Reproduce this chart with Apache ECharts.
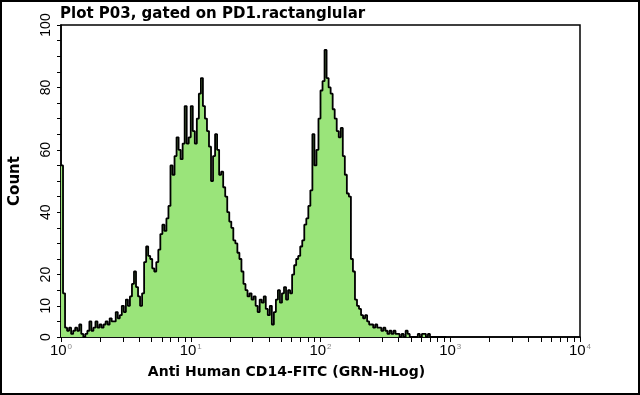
<!DOCTYPE html>
<html>
<head>
<meta charset="utf-8">
<script src="https://cdn.jsdelivr.net/npm/echarts@6/dist/echarts.min.js"></script>
<style>
html,body{margin:0;padding:0;background:#fff;}
#chart{width:640px;height:395px;}
</style>
</head>
<body>
<div id="chart"></div>
<script>
// Histogram channels: 256 channels over 4 decades (64 channels per decade)
var channelsPerDecade = 64;
var counts = [
  55,14,3,2,3,1,2,3,2,4,
  1,0,1,2,5,2,3,5,3,4,
  3,4,5,4,6,5,5,8,6,7,
  10,8,12,10,13,17,21,16,13,10,
  14,24,29,26,25,22,21,24,28,33,
  36,34,38,42,55,52,58,64,60,57,
  62,74,62,64,74,66,62,70,78,83,
  74,70,66,61,50,58,65,60,52,53,
  48,45,40,37,35,31,30,27,25,21,
  17,15,13,14,12,13,10,8,12,11,
  13,9,7,10,4,8,12,15,11,14,
  16,12,15,14,20,23,25,26,29,31,
  36,38,42,47,65,55,60,70,79,82,
  92,83,80,78,73,70,66,64,67,58,
  52,46,45,25,21,12,10,9,7,6,
  7,5,4,4,3,4,3,3,2,3,
  2,1,2,1,2,1,1,0,1,0,
  2,1,0,0,0,0,1,0,1,1,
  0,1,0,0,0,0,0,0,0,0
];
var decadeExponents = ['0','1','2','3','4'];
var yTickLabels = [0,10,20,40,60,80,100];
var titleText = 'Plot P03, gated on PD1.ractanglular';
var xName = 'Anti Human CD14-FITC (GRN-HLog)';
var yName = 'Count';

var data = counts.map(function(v,i){ return [i, v]; });
data.push([counts.length, counts[counts.length-1]]);

var xTicks = [];
for (var d = 0; d < 4; d++) {
  for (var k = 1; k <= 9; k++) xTicks.push(channelsPerDecade * (d + Math.log10(k)));
}
xTicks.push(channelsPerDecade * 4);
var xLabelVals = decadeExponents.map(function(e, i){ return i * channelsPerDecade; });
var yTicks = [];
for (var t = 0; t <= 100; t += 5) yTicks.push(t);

var chart = echarts.init(document.getElementById('chart'), null, {renderer:'canvas'});
chart.setOption({
  animation: false,
  backgroundColor: '#fff',
  title: {
    text: titleText,
    left: 55, top: 2,
    textStyle: {fontFamily:'DejaVu Sans', fontWeight:'bold', fontSize:15, color:'#000'}
  },
  grid: {left:56, top:25, width:524, height:312, show:true, borderColor:'#000', borderWidth:1.5, backgroundColor:'transparent'},
  xAxis: {
    type:'value', min:0, max:channelsPerDecade*4,
    name: xName, nameLocation:'middle', nameGap:28,
    nameTextStyle:{fontFamily:'DejaVu Sans', fontWeight:'bold', fontSize:14, color:'#000', padding:[0,68,0,0]},
    axisLine:{show:true, lineStyle:{color:'#000', width:1.5}},
    axisTick:{show:true, customValues:xTicks, length:5, lineStyle:{color:'#000', width:1}},
    axisLabel:{
      customValues: xLabelVals, margin:6,
      formatter:function(v){ var i = Math.round(v/channelsPerDecade); return '{b|10}{s|' + decadeExponents[i] + '}'; },
      rich:{
        b:{fontFamily:'Liberation Sans', fontSize:15, color:'#000', lineHeight:16},
        s:{fontFamily:'Liberation Sans', fontSize:8, color:'#888', lineHeight:16, verticalAlign:'top', padding:[0,0,0,1]}
      }
    },
    splitLine:{show:false}
  },
  yAxis: {
    type:'value', min:0, max:100,
    name: yName, nameLocation:'middle', nameGap:38,
    nameTextStyle:{fontFamily:'DejaVu Sans', fontWeight:'bold', fontSize:15, color:'#000'},
    axisLine:{show:true, lineStyle:{color:'#000', width:1.5}},
    axisTick:{show:true, customValues:yTicks, length:4, lineStyle:{color:'#000', width:1}},
    axisLabel:{customValues:yTickLabels, rotate:90, margin:8, fontFamily:'Liberation Sans', fontSize:14, color:'#000'},
    splitLine:{show:false}
  },
  graphic: [{
    type:'rect', shape:{x:1, y:1, width:638, height:393},
    style:{fill:null, stroke:'#000', lineWidth:2}, silent:true, z:100
  }],
  series: [{
    type:'line', step:'end', data:data, symbol:'none',
    lineStyle:{color:'#000', width:1.8},
    areaStyle:{color:'#9ae47a', opacity:1},
    clip:true
  }]
});
</script>
</body>
</html>
